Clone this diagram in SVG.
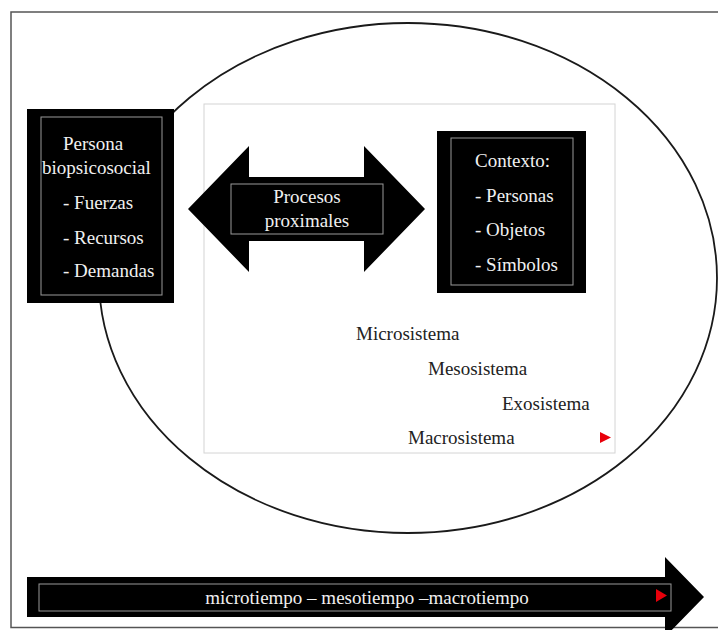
<svg xmlns="http://www.w3.org/2000/svg" width="718" height="630" viewBox="0 0 718 630">
  <style>
    .t { font-family: "Liberation Serif", "Times New Roman", serif; font-size: 19px; }
    .w { fill: #f0f0f0; }
    .d { fill: #222222; }
    .blk { fill: #000000; }
    .inner { fill: none; stroke: #9a9a9a; stroke-width: 1; }
    .red { fill: #e8000b; }
  </style>
  <rect width="718" height="630" fill="#ffffff"/>
  <rect x="11" y="12" width="712" height="615.5" fill="none" stroke="#555555" stroke-width="1.5"/>
  <g id="ellipse">
    <ellipse cx="408" cy="278" rx="309" ry="255" fill="none" stroke="#1a1a1a" stroke-width="1.8"/>
  </g>
  <g id="niveles">
    <rect x="204" y="104" width="411" height="349" fill="none" stroke="#d4d4d4" stroke-width="1"/>
    <text class="t d" x="356" y="340">Microsistema</text>
    <text class="t d" x="428" y="375">Mesosistema</text>
    <text class="t d" x="502" y="410">Exosistema</text>
    <text class="t d" x="408" y="444">Macrosistema</text>
    <polygon class="red" points="600,432 611,437.5 600,443"/>
  </g>
  <g id="connectors"></g>
  <g id="persona">
    <rect class="blk" x="27" y="109" width="147" height="194"/>
    <rect class="inner" x="41" y="117" width="121" height="178"/>
    <text class="t w" x="63" y="150">Persona</text>
    <text class="t w" x="42" y="174">biopsicosocial</text>
    <text class="t w" x="63" y="209">- Fuerzas</text>
    <text class="t w" x="63" y="244">- Recursos</text>
    <text class="t w" x="63" y="277">- Demandas</text>
  </g>
  <g id="procesos">
    <polygon class="blk" points="188,209 249,146 249,177 364,177 364,146 425,209 364,272 364,241 249,241 249,272"/>
    <rect class="inner" x="231" y="184" width="152" height="50"/>
    <text class="t w" x="307" y="203" text-anchor="middle">Procesos</text>
    <text class="t w" x="307" y="227" text-anchor="middle">proximales</text>
  </g>
  <g id="contexto">
    <rect class="blk" x="437" y="131" width="149" height="162"/>
    <rect class="inner" x="451" y="138" width="122" height="147"/>
    <text class="t w" x="475" y="167">Contexto:</text>
    <text class="t w" x="475" y="202">- Personas</text>
    <text class="t w" x="475" y="236">- Objetos</text>
    <text class="t w" x="475" y="271">- Símbolos</text>
  </g>
  <g id="tiempo">
    <polygon class="blk" points="27,577 665,577 665,557 704,597 665,637 665,617 27,617"/>
    <rect class="inner" x="39" y="584" width="632" height="27"/>
    <text class="t w" x="367" y="604" text-anchor="middle">microtiempo – mesotiempo –macrotiempo</text>
    <polygon class="red" points="656,589 667,595.5 656,602"/>
  </g>
</svg>
